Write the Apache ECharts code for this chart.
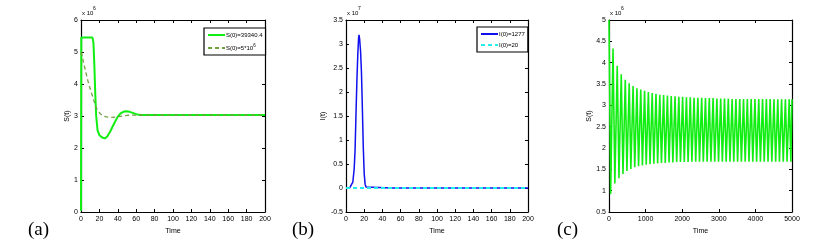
<!DOCTYPE html>
<html><head><meta charset="utf-8">
<script src="https://cdn.jsdelivr.net/npm/echarts@6/dist/echarts.min.js"></script>
<style>html,body{margin:0;padding:0;background:#fff}#c{width:833px;height:246px}</style>
</head><body><div id="c"></div>
<script>
// ---------- Panel (a): S(t), units of 10^6 ----------
const aSolidT = [0,0.3,12.5,13.5,14.5,15.5,16.5,18,20,23,26,28.5,31.5,34,37,40,43,46,49,53,57,61,65,70,100,150,200];
const aSolidS = [0.04,5.45,5.45,5.3,4.6,3.7,3.0,2.55,2.4,2.33,2.30,2.36,2.5,2.65,2.82,2.98,3.08,3.13,3.15,3.13,3.09,3.05,3.03,3.03,3.03,3.03,3.03];
const aDashT = [0,1.5,3.3,5,7.3,9.5,11.6,14,16,18,20.6,24,27.9,33,39,45,50,56,65,100,150,200];
const aDashS = [5.0,4.85,4.6,4.4,4.12,3.9,3.7,3.48,3.29,3.18,3.08,3.0,2.97,2.96,2.97,3.0,3.02,3.03,3.03,3.03,3.03,3.03];
// ---------- Panel (b): I(t), units of 10^7 ----------
const bBlueT = [0,4,6,7.5,9,10,11,12,13,13.8,14.3,15,16,17,18,19,20,21,22,24,50,100,150,200];
const bBlueI = [0,0.003,0.03,0.12,0.4,0.8,1.55,2.25,2.8,3.12,3.19,3.1,2.85,2.4,1.65,0.85,0.3,0.08,0.02,0,0,0,0,0];
const bCyanT = [0,50,100,150,200];
const bCyanI = [0,0,0,0,0];
// ---------- Panel (c): S(t), units of 10^6 ----------
const cPeakT = [0,110,225,335,445,552,658,763,868,972,1076,1180,1284,1388,1492,1596,1700,1804,1908,2012,2116,2220,2324,2428,2532,2636,2740,2844,2948,3052,3156,3260,3364,3468,3572,3676,3780,3884,3988,4092,4196,4300,4404,4508,4612,4716,4820,4924];
const cPeakS = [5.00,4.33,3.93,3.73,3.60,3.52,3.45,3.40,3.37,3.34,3.31,3.29,3.27,3.25,3.24,3.23,3.22,3.21,3.20,3.20,3.19,3.19,3.18,3.18,3.18,3.17,3.17,3.17,3.16,3.16,3.16,3.16,3.15,3.15,3.15,3.15,3.15,3.15,3.15,3.15,3.15,3.15,3.15,3.14,3.14,3.14,3.14,3.14];
const cTroughT = [45,160,272,382,490,597,703,808,913,1017,1121,1225,1329,1433,1537,1641,1745,1849,1953,2057,2161,2265,2369,2473,2577,2681,2785,2889,2993,3097,3201,3305,3409,3513,3617,3721,3825,3929,4033,4137,4241,4345,4449,4553,4657,4761,4865,4969];
const cTroughS = [0.92,1.17,1.29,1.39,1.46,1.51,1.55,1.57,1.59,1.61,1.62,1.63,1.64,1.65,1.65,1.66,1.66,1.67,1.67,1.67,1.67,1.68,1.68,1.68,1.68,1.68,1.68,1.68,1.68,1.68,1.68,1.68,1.68,1.68,1.68,1.68,1.68,1.68,1.68,1.68,1.68,1.68,1.68,1.68,1.68,1.68,1.68,1.68];
const cEndT = 5000, cEndS = 3.14;

const xTicksAB = {min:0,max:200,interval:20};
const xTicksC = {min:0,max:5000,interval:1000};
const yTicksA = {min:0,max:6,interval:1};
const yTicksB = {min:-0.5,max:3.5,interval:0.5};
const yTicksC = {min:0.5,max:5,interval:0.5};

const zip = (t,v)=>t.map((x,i)=>[x,v[i]]);
const cData = [];
cPeakT.forEach((t,i)=>{cData.push([t,cPeakS[i]]);cData.push([cTroughT[i],cTroughS[i]]);});
cData.push([cEndT,cEndS]);

const FF = 'Liberation Sans';
const lbl = {fontFamily:FF,fontSize:7,color:'#000'};
const lineBox = {show:true,onZero:false,lineStyle:{color:'#000',width:1.2}};
const tickIn = {show:true,inside:true,length:3,lineStyle:{color:'#000',width:1}};
const plain = v => String(v);

const grids = [
  {left:81,top:20,width:184,height:192},
  {left:346,top:20,width:182,height:192},
  {left:609,top:20,width:183,height:192}
];
const xs=[], ys=[];
function addAxes(g, xt, yt, yname, ygap){
  xs.push(Object.assign({type:'value',gridIndex:g,position:'bottom',axisLine:lineBox,axisTick:tickIn,splitLine:{show:false},
    axisLabel:Object.assign({margin:4,formatter:plain},lbl),name:'Time',nameLocation:'middle',nameGap:11,nameTextStyle:Object.assign({},lbl)},xt));
  xs.push(Object.assign({type:'value',gridIndex:g,position:'top',axisLine:lineBox,axisTick:tickIn,splitLine:{show:false},axisLabel:{show:false}},xt));
  ys.push(Object.assign({type:'value',gridIndex:g,position:'left',axisLine:lineBox,axisTick:tickIn,splitLine:{show:false},
    axisLabel:Object.assign({margin:3,formatter:plain},lbl),name:yname,nameLocation:'middle',nameGap:ygap,nameRotate:90,nameTextStyle:Object.assign({},lbl)},yt));
  ys.push(Object.assign({type:'value',gridIndex:g,position:'right',axisLine:lineBox,axisTick:tickIn,splitLine:{show:false},axisLabel:{show:false}},yt));
}
addAxes(0,xTicksAB,yTicksA,'S(t)',8);
addAxes(1,xTicksAB,yTicksB,'I(t)',9);
addAxes(2,xTicksC,yTicksC,'S(t)',13);

const nameA1='S(0)=39340.4', nameA2='S(0)=5*10^6', nameB1='I(0)=1277', nameB2='I(0)=20';
const series = [
  {name:nameA1,type:'line',xAxisIndex:0,yAxisIndex:0,data:zip(aSolidT,aSolidS),showSymbol:false,symbol:'none',lineStyle:{color:'#11ee11',width:2},itemStyle:{color:'#11ee11'}},
  {name:nameA2,type:'line',xAxisIndex:0,yAxisIndex:0,data:zip(aDashT,aDashS),showSymbol:false,symbol:'none',lineStyle:{color:'#6fa040',width:1.3,type:[4,3]},itemStyle:{color:'#6fa040'}},
  {name:nameB1,type:'line',xAxisIndex:2,yAxisIndex:2,data:zip(bBlueT,bBlueI),showSymbol:false,symbol:'none',lineStyle:{color:'#1010ee',width:1.5},itemStyle:{color:'#1010ee'}},
  {name:nameB2,type:'line',xAxisIndex:2,yAxisIndex:2,data:zip(bCyanT,bCyanI),showSymbol:false,symbol:'none',lineStyle:{color:'#22eeee',width:1.8,type:[4,3]},itemStyle:{color:'#22eeee'}},
  {name:'c',type:'line',xAxisIndex:4,yAxisIndex:4,data:cData,showSymbol:false,symbol:'none',lineStyle:{color:'#11ee11',width:1.6}}
];
const rich = {n:{fontFamily:FF,fontSize:6,color:'#000'},s:{fontFamily:FF,fontSize:4.5,color:'#000',padding:[0,0,5,0]}};
const fmt = n => n===nameA2 ? '{n|S(0)=5*10}{s|6}' : '{n|'+n+'}';
const legendBase = {orient:'vertical',itemWidth:17,itemHeight:6,itemGap:5,padding:[4,3,4,3],borderColor:'#000',borderWidth:1.2,borderRadius:0,backgroundColor:'#fff',
  itemStyle:{opacity:0},formatter:fmt,textStyle:{rich:rich,padding:[0,0,0,-4]}};
const legends = [
  Object.assign({left:204,top:28,data:[nameA1,nameA2]},legendBase),
  Object.assign({left:477,top:27,data:[nameB1,nameB2]},legendBase)
];
const txt = (l,t,s,fs,fam)=>({type:'text',left:l,top:t,style:{text:s,font:fs+'px "'+(fam||FF)+'"',fill:'#000'}});
const graphic = [
  txt(82,10,'x 10',6), txt(93,6,'6',5),
  txt(347,10,'x 10',6), txt(358,6,'7',5),
  txt(610,10,'x 10',6), txt(621,6,'6',5),
  txt(28,221,'(a)',19,'Liberation Serif'),
  txt(292,221,'(b)',19,'Liberation Serif'),
  txt(557,221,'(c)',19,'Liberation Serif')
];
const chart = echarts.init(document.getElementById('c'),null,{renderer:'canvas'});
chart.setOption({animation:false,backgroundColor:'#fff',grid:grids,xAxis:xs,yAxis:ys,series:series,legend:legends,graphic:graphic});
</script></body></html>
